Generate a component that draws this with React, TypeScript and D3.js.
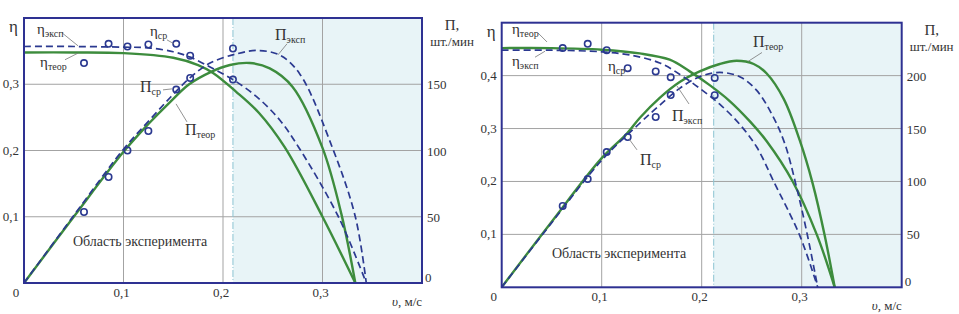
import React from "react";
import * as d3 from "d3";

type Pt = [number, number];

// ---------- Left panel data (v, value) ----------
const L_etaTheor: Pt[] = [[0, 0.348], [0.05, 0.348], [0.1, 0.347], [0.15, 0.34], [0.175, 0.329], [0.19, 0.317], [0.213, 0.289], [0.236, 0.257], [0.262, 0.205], [0.3, 0.1], [0.333, 0]];
const L_etaExp: Pt[] = [[0, 0.357], [0.05, 0.357], [0.1, 0.356], [0.125, 0.355], [0.15, 0.349], [0.167, 0.341], [0.187, 0.326], [0.21, 0.307], [0.234, 0.281], [0.257, 0.246], [0.276, 0.205], [0.316, 0.1], [0.344, 0]];
const L_piTheor: Pt[] = [[0, 0], [0.05, 50], [0.1, 99], [0.125, 120], [0.146, 136], [0.166, 150], [0.187, 159], [0.207, 164.5], [0.227, 166], [0.247, 162], [0.27, 148], [0.3, 102], [0.319, 52], [0.333, 0]];
const L_piExp: Pt[] = [[0, 0], [0.05, 51], [0.1, 101], [0.125, 122], [0.147, 140], [0.167, 155], [0.187, 166], [0.214, 173], [0.234, 175.5], [0.257, 172], [0.277, 158], [0.31, 102], [0.333, 50], [0.344, 0]];
const L_ptV = [0.0603, 0.085, 0.104, 0.125, 0.153, 0.167, 0.21];
const L_ptEta = [0.332, 0.361, 0.357, 0.36, 0.361, 0.343, 0.307];
const L_ptPi = [53.6, 80, 100, 114.7, 146, 154.7, 177];

// ---------- Right panel data ----------
const R_etaTheor: Pt[] = [[0, 0.452], [0.05, 0.452], [0.1, 0.449], [0.138, 0.442], [0.168, 0.43], [0.188, 0.408], [0.208, 0.382], [0.228, 0.352], [0.248, 0.314], [0.265, 0.276], [0.291, 0.2], [0.315, 0.1], [0.333, 0]];
const R_etaExp: Pt[] = [[0, 0.448], [0.05, 0.448], [0.1, 0.445], [0.128, 0.439], [0.158, 0.424], [0.18, 0.4], [0.198, 0.376], [0.218, 0.346], [0.238, 0.308], [0.255, 0.265], [0.272, 0.2], [0.298, 0.098], [0.316, 0]];
const R_piTheor: Pt[] = [[0, 0], [0.05, 62], [0.1, 122], [0.125, 145], [0.138, 160], [0.158, 179], [0.178, 194], [0.198, 204], [0.218, 211], [0.235, 214], [0.252, 211], [0.265, 202], [0.282, 178], [0.298, 139], [0.311, 98], [0.323, 49], [0.333, 0]];
const R_piExp: Pt[] = [[0, 0], [0.05, 61], [0.1, 120], [0.138, 155], [0.158, 172], [0.178, 188], [0.198, 199], [0.218, 203], [0.238, 199], [0.255, 186], [0.271, 162], [0.283, 136], [0.295, 94], [0.306, 48], [0.316, 0]];
const R_ptV = [0.061, 0.086, 0.105, 0.126, 0.154, 0.169, 0.213];
const R_ptEta = [0.452, 0.46, 0.448, 0.414, 0.408, 0.397, 0.363];
const R_ptPi = [76.8, 102.3, 127.8, 142, 160.9, 181.7, 197.8];

// ---------- Tick labels ----------
const X_TICKS = [0.1, 0.2, 0.3];
const X_TICK_LABELS = ["0,1", "0,2", "0,3"];
const L_ETA_TICKS = [0.1, 0.2, 0.3];
const L_ETA_LABELS = ["0,1", "0,2", "0,3"];
const L_PI_TICKS = [50, 100, 150];
const R_ETA_TICKS = [0.1, 0.2, 0.3, 0.4];
const R_ETA_LABELS = ["0,1", "0,2", "0,3", "0,4"];
const R_PI_TICKS = [50, 100, 150, 200];

// annotations: [labelV, labelEta, main, sub, leaderV1, leaderEta1, leaderV2, leaderEta2]
type Ann = [number, number, string, string, number, number, number, number];
const L_ANN: Ann[] = [
  [0.0131, 0.376, "η", "эксп", 0.0382, 0.3776, 0.0543, 0.358],
  [0.0161, 0.326, "η", "теор", 0.0412, 0.337, 0.0543, 0.347],
  [0.1266, 0.373, "η", "ср", 0.1437, 0.367, 0.1508, 0.361],
  [0.1166, 0.2885, "П", "ср", 0.1397, 0.2915, 0.1487, 0.293],
  [0.1618, 0.2236, "П", "теор", 0.1638, 0.2432, 0.1528, 0.2704],
  [0.2523, 0.367, "П", "эксп", 0.2643, 0.361, 0.2553, 0.3444],
];
const R_ANN: Ann[] = [
  [0.0103, 0.4786, "η", "теор", 0.0363, 0.4806, 0.0453, 0.4636],
  [0.0103, 0.4181, "η", "эксп", 0.0333, 0.4348, 0.0433, 0.4461],
  [0.1063, 0.4087, "η", "ср", 0.1203, 0.41, 0.1243, 0.411],
  [0.1703, 0.3143, "П", "эксп", 0.1873, 0.3464, 0.1753, 0.3804],
  [0.1383, 0.2311, "П", "ср", 0.1353, 0.2597, 0.1273, 0.2804],
  [0.2513, 0.454, "П", "теор", 0.2603, 0.4437, 0.2463, 0.4267],
];

const REGION_TEXT = "Область эксперимента";

const GREEN = "#3d8c3d";
const BLUE = "#2b3990";
const BORDER = "#2e3192";
const GRID = "#a3a3a3";
const SHADE = "#e8f4f7";
const TXT = "#333";
const FONT = "Liberation Serif, DejaVu Serif, Liberation Sans, serif";

interface PanelProps {
  x0: number; x1: number; y0: number; y1: number;
  etaMax: number; piMax: number; bound: number;
  etaTheor: Pt[]; etaExp: Pt[]; piTheor: Pt[]; piExp: Pt[];
  ptV: number[]; ptEta: number[]; ptPi: number[];
  etaTicks: number[]; etaLabels: string[]; piTicks: number[];
  ann: Ann[]; regionV: number; regionEta: number;
  xLabelDy: number;
}

function Panel(p: PanelProps) {
  const x = d3.scaleLinear().domain([0, 0.4]).range([p.x0, p.x1]);
  const yE = d3.scaleLinear().domain([0, p.etaMax]).range([p.y1, p.y0]);
  const yP = d3.scaleLinear().domain([0, p.piMax]).range([p.y1, p.y0]);
  const curve = d3.curveCatmullRom.alpha(0.5);
  const lineE = d3.line<Pt>().x((d) => x(d[0])).y((d) => yE(d[1])).curve(curve);
  const lineP = d3.line<Pt>().x((d) => x(d[0])).y((d) => yP(d[1])).curve(curve);
  const bx = x(p.bound);
  return (
    <g>
      <rect x={bx} y={p.y0} width={p.x1 - bx} height={p.y1 - p.y0} fill={SHADE} />
      {X_TICKS.map((t) => (
        <line key={"gx" + t} x1={x(t)} x2={x(t)} y1={p.y0} y2={p.y1} stroke={GRID} strokeWidth={1} />
      ))}
      {p.etaTicks.map((t) => (
        <line key={"gy" + t} x1={p.x0} x2={p.x1} y1={yE(t)} y2={yE(t)} stroke={GRID} strokeWidth={1} />
      ))}
      <line x1={bx} x2={bx} y1={p.y0} y2={p.y1} stroke="#8cc3d2" strokeWidth={1} strokeDasharray="7,2,1,2" />
      <path d={lineE(p.etaTheor) || ""} fill="none" stroke={GREEN} strokeWidth={2.4} />
      <path d={lineP(p.piTheor) || ""} fill="none" stroke={GREEN} strokeWidth={2.4} />
      <path d={lineE(p.etaExp) || ""} fill="none" stroke={BLUE} strokeWidth={1.7} strokeDasharray="7,4" />
      <path d={lineP(p.piExp) || ""} fill="none" stroke={BLUE} strokeWidth={1.7} strokeDasharray="7,4" />
      {p.ptV.map((v, i) => (
        <g key={"pt" + i}>
          <circle cx={x(v)} cy={yE(p.ptEta[i])} r={3.2} fill="none" stroke={BLUE} strokeWidth={1.6} />
          <circle cx={x(v)} cy={yP(p.ptPi[i])} r={3.2} fill="none" stroke={BLUE} strokeWidth={1.6} />
        </g>
      ))}
      <rect x={p.x0} y={p.y0} width={p.x1 - p.x0} height={p.y1 - p.y0} fill="none" stroke={BORDER} strokeWidth={2} />
      <g style={{ fontFamily: FONT }} fontSize={13} fill={TXT}>
        {X_TICKS.map((t, i) => (
          <text key={"xl" + t} x={x(t) - 2} y={p.y1 + p.xLabelDy} textAnchor="middle">{X_TICK_LABELS[i]}</text>
        ))}
        <text x={p.x0 - 8} y={p.y1 + p.xLabelDy} textAnchor="middle">0</text>
        {p.etaTicks.map((t, i) => (
          <text key={"el" + t} x={p.x0 - 5} y={yE(t) + 4} textAnchor="end">{p.etaLabels[i]}</text>
        ))}
        {p.piTicks.map((t) => (
          <text key={"pl" + t} x={p.x1 + 5} y={yP(t) + 5} textAnchor="start">{t}</text>
        ))}
        <text x={p.x1 + 3} y={p.y1 - 1} textAnchor="start">0</text>
        <text x={p.x1 - 30} y={p.y1 + p.xLabelDy + 9} textAnchor="start">
          <tspan fontStyle="italic">υ</tspan>, м/с
        </text>
        <text x={p.x1 + 30} y={p.y0 + 12} textAnchor="middle" fontSize={15}>П,</text>
        <text x={p.x1 + 30} y={p.y0 + 28} textAnchor="middle">шт./мин</text>
        <text x={p.x0 - 15} y={p.y0 + 14} textAnchor="start" fontSize={17}>η</text>
        <text x={x(p.regionV)} y={yE(p.regionEta)} fontSize={14}>{REGION_TEXT}</text>
      </g>
      <g style={{ fontFamily: FONT }} fill={TXT}>
        {p.ann.map((a, i) => (
          <g key={"an" + i}>
            <line x1={x(a[4])} y1={yE(a[5])} x2={x(a[6])} y2={yE(a[7])} stroke="#777" strokeWidth={0.8} />
            <text x={x(a[0])} y={yE(a[1])} fontSize={a[2] === "П" ? 16 : 15}>
              <tspan>{a[2]}</tspan>
              <tspan fontSize={10} dy={3}>{a[3]}</tspan>
            </text>
          </g>
        ))}
      </g>
    </g>
  );
}

export default function App() {
  return (
    <svg width={959} height={314} style={{ position: "absolute", left: 0, top: 0, background: "#fff" }}>
      <rect x={0} y={0} width={959} height={314} fill="#fff" />
      <Panel x0={24} x1={422} y0={18} y1={283} etaMax={0.4} piMax={200} bound={0.21}
        etaTheor={L_etaTheor} etaExp={L_etaExp} piTheor={L_piTheor} piExp={L_piExp}
        ptV={L_ptV} ptEta={L_ptEta} ptPi={L_ptPi}
        etaTicks={L_ETA_TICKS} etaLabels={L_ETA_LABELS} piTicks={L_PI_TICKS}
        ann={L_ANN} regionV={0.0492} regionEta={0.0559} xLabelDy={14} />
      <Panel x0={501.7} x1={901.7} y0={22.7} y1={287.3} etaMax={0.5} piMax={250} bound={0.212}
        etaTheor={R_etaTheor} etaExp={R_etaExp} piTheor={R_piTheor} piExp={R_piExp}
        ptV={R_ptV} ptEta={R_ptEta} ptPi={R_ptPi}
        etaTicks={R_ETA_TICKS} etaLabels={R_ETA_LABELS} piTicks={R_PI_TICKS}
        ann={R_ANN} regionV={0.0503} regionEta={0.0554} xLabelDy={14} />
    </svg>
  );
}
